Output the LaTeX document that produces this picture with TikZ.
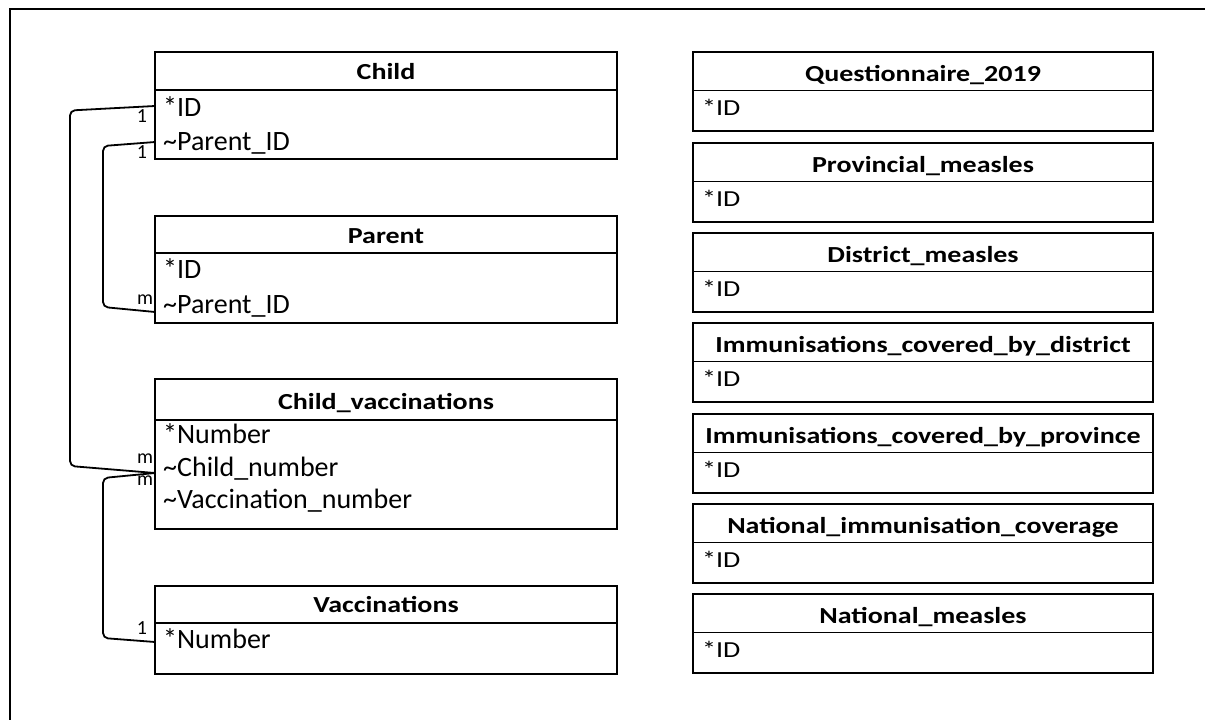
\documentclass[tikz,border=0pt]{standalone}
\usepackage{fontspec}
\setmainfont{Carlito}
% titles and the right-hand fields are set slightly compressed in height
\newcommand\squash[1]{\scalebox{1}[0.82]{#1}}
\begin{document}
\begin{tikzpicture}[x=1pt,y=-1pt,
  frame/.style={line width=2.8pt},
  tablebox/.style={draw, line width=1.8pt, rectangle, inner sep=0pt},
  divider/.style={line width=1.8pt},
  tabletitle/.style={font=\fontsize{28}{31}\selectfont\bfseries, anchor=base, inner sep=0pt},
  field/.style={font=\fontsize{28}{31}\selectfont, anchor=base west, inner sep=0pt},
  link/.style={line width=1.8pt, rounded corners=5pt},
  mult/.style={font=\fontsize{20}{22}\selectfont, inner sep=0pt}
]
\useasboundingbox (0,0) rectangle (1205,720);
\begin{scope}
\clip (0,0) rectangle (1205,720);
\draw[frame] (10,9) rectangle (1240,750);
\end{scope}

% ---------------- left column: related tables ----------------
% Child
\node[tablebox, minimum width=462pt, minimum height=107pt] (child) at (386,105.5) {};
\draw[divider] (155,90) -- (617,90);
\node[tabletitle] (child-t) at (386,79) {\squash{Child}};
\node[field] (child-f1) at (163,116) {*ID};
\node[field] (child-f2) at (163,150) {\textasciitilde Parent\_ID};

% Parent
\node[tablebox, minimum width=462pt, minimum height=107pt] (parent) at (386,269.5) {};
\draw[divider] (155,253) -- (617,253);
\node[tabletitle] (parent-t) at (386,243) {\squash{Parent}};
\node[field] (parent-f1) at (163,278) {*ID};
\node[field] (parent-f2) at (163,313) {\textasciitilde Parent\_ID};

% Child_vaccinations
\node[tablebox, minimum width=462pt, minimum height=150pt] (cvacc) at (386,454) {};
\draw[divider] (155,420) -- (617,420);
\node[tabletitle] (cvacc-t) at (386,409) {\squash{Child\_vaccinations}};
\node[field] (cvacc-f1) at (163,443) {*Number};
\node[field] (cvacc-f2) at (163,476) {\textasciitilde Child\_number};
\node[field] (cvacc-f3) at (163,508) {\textasciitilde Vaccination\_number};

% Vaccinations
\node[tablebox, minimum width=462pt, minimum height=88pt] (vacc) at (386,630) {};
\draw[divider] (155,623) -- (617,623);
\node[tabletitle] (vacc-t) at (386,612) {\squash{Vaccinations}};
\node[field] (vacc-f1) at (163,648) {*Number};

% ---------------- right column: standalone tables ----------------
\foreach \nm/\ttl/\top in {q/Questionnaire\_2019/52,
                          pm/Provincial\_measles/143,
                          dm/District\_measles/233,
                          icd/Immunisations\_covered\_by\_district/323,
                          icp/Immunisations\_covered\_by\_province/414,
                          nic/National\_immunisation\_coverage/504,
                          nm/National\_measles/594}{
  \node[tablebox, minimum width=460pt, minimum height=79pt] (\nm) at (923,\top+39.5) {};
  \draw[divider] (693,\top+38.5) -- (1153,\top+38.5);
  \node[tabletitle] (\nm-t) at (923,\top+29) {\squash{\ttl}};
  \node[field] (\nm-f1) at (702,\top+63.5) {\squash{*ID}};
}

% ---------------- relationships ----------------
\coordinate (child-id-port)    at (155,106);
\coordinate (child-pid-port)   at (155,142);
\coordinate (parent-pid-port)  at (155,312);
\coordinate (cvacc-cn-port)    at (155,473);
\coordinate (vacc-num-port)    at (155,642);

\draw[link] (child-id-port) -- (70,110.5) -- (70,466) -- (cvacc-cn-port);
\draw[link] (child-pid-port) -- (103,146) -- (103,307) -- (parent-pid-port);
\draw[link] (vacc-num-port) -- (103,638) -- (103,478) -- (cvacc-cn-port);

\node[mult] (card-1a) at (142,116) {1};
\node[mult] (card-1b) at (142,152) {1};
\node[mult] (card-ma) at (145,300) {m};
\node[mult] (card-mb) at (145,459) {m};
\node[mult] (card-mc) at (145,481) {m};
\node[mult] (card-1c) at (142,628) {1};
\end{tikzpicture}
\end{document}
